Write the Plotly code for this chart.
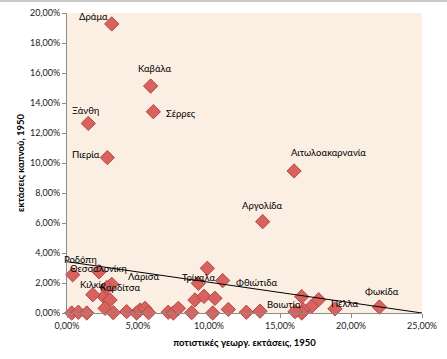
import plotly.graph_objects as go

# irrigated agricultural land share (%), tobacco land share (%), label
names = ["Δράμα", "Καβάλα", "Σέρρες", "Ξάνθη", "Πιερία", "Αιτωλοακαρνανία",
         "Αργολίδα", "Φωκίδα", "Πέλλα", "Ροδόπη", "Θεσσαλονίκη", "Κιλκίς",
         "Καρδίτσα", "Λάρισα", "Τρίκαλα", "Φθιώτιδα", "Βοιωτία"]
x_lab = [3.15, 5.89, 6.08, 1.50, 2.84, 15.99, 13.78, 22.00, 18.87, 0.40, 2.25,
         1.82, 3.15, 2.80, 9.25, 10.96, 16.06]
y_lab = [19.27, 15.13, 13.42, 12.64, 10.36, 9.47, 6.09, 0.40, 0.28, 2.55, 2.75,
         1.22, 1.91, 1.70, 1.98, 2.16, 0.09]

x_other = [2.60, 3.03, 2.68, 3.26, 0.33, 0.80, 1.39, 4.20, 4.90, 5.14, 5.49,
           5.75, 7.13, 7.49, 7.84, 8.78, 9.01, 9.65, 9.88, 10.42, 10.26, 11.36,
           12.63, 13.59, 16.53, 17.72, 17.20, 16.64, 16.53]
y_other = [1.09, 0.87, 0.31, 0.02, 0.00, 0.05, 0.00, 0.09, 0.00, 0.20, 0.31,
           0.02, 0.05, 0.00, 0.31, 0.02, 0.87, 1.11, 2.98, 0.98, 0.00, 0.24,
           0.05, 0.12, 1.09, 0.89, 0.42, 0.20, 0.00]

trend_x = [0.0, 25.0]
trend_y = [3.42, 0.0]

x_ticks = [0, 5, 10, 15, 20, 25]
y_ticks = [0, 2, 4, 6, 8, 10, 12, 14, 16, 18, 20]

# label offsets in pixels (dx, dy up)
label_offsets = {
    "Δράμα": (-18, 7), "Καβάλα": (4, 18), "Σέρρες": (28, -2), "Ξάνθη": (-3, 13),
    "Πιερία": (-21, 3), "Αιτωλοακαρνανία": (34, 18), "Αργολίδα": (0, 16),
    "Φωκίδα": (3, 16), "Πέλλα": (10, 5), "Ροδόπη": (8, 15), "Θεσσαλονίκη": (0, 3),
    "Κιλκίς": (0, 10), "Καρδίτσα": (8, -3), "Λάρισα": (37, 11),
    "Τρίκαλα": (1, 6), "Φθιώτιδα": (34, -2), "Βοιωτία": (-11, 7),
}

pct = lambda v: [a / 100 for a in v]

FONT = "Lato, Open Sans, sans-serif"
marker = dict(symbol="diamond", size=11, color="#D8625E",
              line=dict(color="#B04845", width=1))

fig = go.Figure()
fig.add_trace(go.Scatter(x=pct(x_other), y=pct(y_other), mode="markers",
                         marker=marker, cliponaxis=False, showlegend=False))
fig.add_trace(go.Scatter(x=pct(x_lab), y=pct(y_lab), mode="markers",
                         marker=marker, cliponaxis=False, showlegend=False))
fig.add_trace(go.Scatter(x=pct(trend_x), y=pct(trend_y), mode="lines",
                         line=dict(color="black", width=1), cliponaxis=False,
                         showlegend=False))

for n, xv, yv in zip(names, x_lab, y_lab):
    dx, dy = label_offsets[n]
    fig.add_annotation(x=xv / 100, y=yv / 100, text=n, showarrow=False,
                       xshift=dx, yshift=dy,
                       font=dict(family=FONT, size=9.5, color="black"))

axis_common = dict(showgrid=False, zeroline=False, showline=True, automargin=False,
                   linecolor="#8C8C8C", linewidth=1, ticks="outside",
                   ticklen=4, tickcolor="#8C8C8C", tickformat=".2%",
                   tickfont=dict(family=FONT, size=9, color="#1a1a1a"))

fig.update_layout(
    width=447, height=359,
    margin=dict(l=67, r=25, t=13, b=46),
    paper_bgcolor="white", plot_bgcolor="#FBEEE2",
    separators=",.",
    xaxis=dict(range=[0, 0.25], tickvals=pct(x_ticks),
               title=dict(text="<b>ποτιστικές γεωργ. εκτάσεις, 1950</b>", standoff=9,
                          font=dict(family=FONT, size=9.5, color="black")),
               **axis_common),
    yaxis=dict(range=[0, 0.20], tickvals=pct(y_ticks),
               title=dict(text="<b>εκτάσεις καπνού, 1950</b>", standoff=3,
                          font=dict(family=FONT, size=9.5, color="black")),
               **axis_common),
    shapes=[dict(type="line", xref="paper", yref="paper", x0=-0.3, x1=1.1,
                 y0=1.04, y1=1.04, line=dict(color="#C8C8C8", width=2))],
)

fig.write_html("out.html", config={"displayModeBar": False},
               post_script="document.body.style.margin='0';document.body.style.overflow='hidden';")
